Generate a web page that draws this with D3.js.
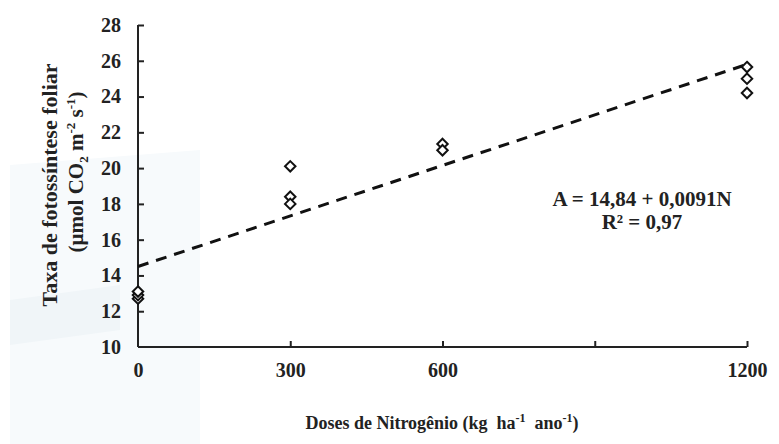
<!DOCTYPE html>
<html lang="pt">
<head>
    <meta charset="UTF-8">
    <title>fotossintese</title>
    <script src="https://d3js.org/d3.v7.min.js"></script>
    <style>
        body { margin: 0; background: #fff; }
        .axis path, .axis line { fill: none; stroke: #222; stroke-width: 2; }
        .axis text { font-family: "Liberation Serif", "Times New Roman", serif; font-weight: bold; font-size: 20px; fill: #222; }
        .lbl { font-family: "Liberation Serif", "Times New Roman", serif; font-weight: bold; fill: #222; }
    </style>
</head>
<body>
<script>
    const width = 779
    const height = 444

    // data
    const doses = [0, 0, 0, 300, 300, 300, 600, 600, 1200, 1200, 1200]
    const taxa = [12.7, 12.9, 13.1, 20.1, 18.4, 18.0, 21.35, 21.0, 25.65, 25.0, 24.2]
    const fitX = [0, 1200]
    const fitY = [14.5, 25.8]
    const xTicks = [0, 300, 600, 900, 1200]
    const xTickLabels = ['0', '300', '600', '', '1200']
    const yTicks = [10, 12, 14, 16, 18, 20, 22, 24, 26, 28]

    const svg = d3.select("body").append("svg")
        .attr("width", width)
        .attr("height", height)

    // faint background watermark on the left
    svg.append("path")
        .attr("d", "M10,165 L200,150 L200,444 L10,444 Z")
        .attr("fill", "#f7fafc")
    svg.append("path")
        .attr("d", "M10,300 L120,285 L120,330 L10,345 Z")
        .attr("fill", "#f0f5f8")

    const xScale = d3.scaleLinear().domain([0, 1200]).range([138, 747])
    const yScale = d3.scaleLinear().domain([10, 28]).range([347, 25])

    const xAxis = d3.axisBottom(xScale)
        .tickValues(xTicks)
        .tickSize(-6)
        .tickPadding(16)
        .tickFormat((d, i) => xTickLabels[i])
    svg.append("g")
        .attr("class", "axis")
        .attr("transform", "translate(0," + yScale(10) + ")")
        .call(xAxis)
        .call(g => g.select(".domain").attr("d", "M" + xScale(0) + ",0H" + xScale(1200)))
        .call(g => g.selectAll(".tick line").filter(d => d === 0).remove())

    const yAxis = d3.axisLeft(yScale)
        .tickValues(yTicks)
        .tickSize(-6)
        .tickPadding(17)
    svg.append("g")
        .attr("class", "axis")
        .attr("transform", "translate(" + xScale(0) + ",0)")
        .call(yAxis)
        .call(g => g.select(".domain").attr("d", "M0," + yScale(10) + "V" + yScale(28)))
        .call(g => g.selectAll(".tick line").filter(d => d === 10).remove())

    // regression line
    const line = d3.line()
        .x(d => xScale(d[0]))
        .y(d => yScale(d[1]))
    svg.append("path")
        .datum(d3.zip(fitX, fitY))
        .attr("d", line)
        .attr("fill", "none")
        .attr("stroke", "#111")
        .attr("stroke-width", 3)
        .attr("stroke-dasharray", "11,8")

    // points
    const diamond = d3.symbol().type(d3.symbolDiamond2).size(70)
    svg.selectAll(".pt")
        .data(d3.zip(doses, taxa))
        .enter()
        .append("path")
        .attr("class", "pt")
        .attr("d", diamond)
        .attr("transform", d => "translate(" + xScale(d[0]) + "," + yScale(d[1]) + ")")
        .attr("fill", "#fff")
        .attr("stroke", "#111")
        .attr("stroke-width", 2)

    // equation
    svg.append("text")
        .attr("class", "lbl")
        .attr("x", 642).attr("y", 206)
        .attr("text-anchor", "middle")
        .attr("font-size", 21)
        .text("A = 14,84 + 0,0091N")
    svg.append("text")
        .attr("class", "lbl")
        .attr("x", 642).attr("y", 229)
        .attr("text-anchor", "middle")
        .attr("font-size", 21)
        .text("R² = 0,97")

    // x title
    const xt = svg.append("text")
        .attr("class", "lbl")
        .attr("x", 442).attr("y", 429)
        .attr("text-anchor", "middle")
        .attr("font-size", 18)
    xt.append("tspan").text("Doses de Nitrogênio (kg\u00a0\u00a0ha")
    xt.append("tspan").attr("dy", -7).attr("font-size", 12).text("-1")
    xt.append("tspan").attr("dy", 7).text("\u00a0\u00a0ano")
    xt.append("tspan").attr("dy", -7).attr("font-size", 12).text("-1")
    xt.append("tspan").attr("dy", 7).text(")")

    // y title
    svg.append("text")
        .attr("class", "lbl")
        .attr("transform", "translate(57,185) rotate(-90)")
        .attr("text-anchor", "middle")
        .attr("font-size", 22)
        .text("Taxa de fotossíntese foliar")
    const yt = svg.append("text")
        .attr("class", "lbl")
        .attr("transform", "translate(83,172) rotate(-90)")
        .attr("text-anchor", "middle")
        .attr("font-size", 21)
    yt.append("tspan").text("(µmol CO")
    yt.append("tspan").attr("dy", 5).attr("font-size", 13).text("2")
    yt.append("tspan").attr("dy", -5).text(" m")
    yt.append("tspan").attr("dy", -8).attr("font-size", 13).text("-2")
    yt.append("tspan").attr("dy", 8).text(" s")
    yt.append("tspan").attr("dy", -8).attr("font-size", 13).text("-1")
    yt.append("tspan").attr("dy", 8).text(")")
</script>
</body>
</html>
